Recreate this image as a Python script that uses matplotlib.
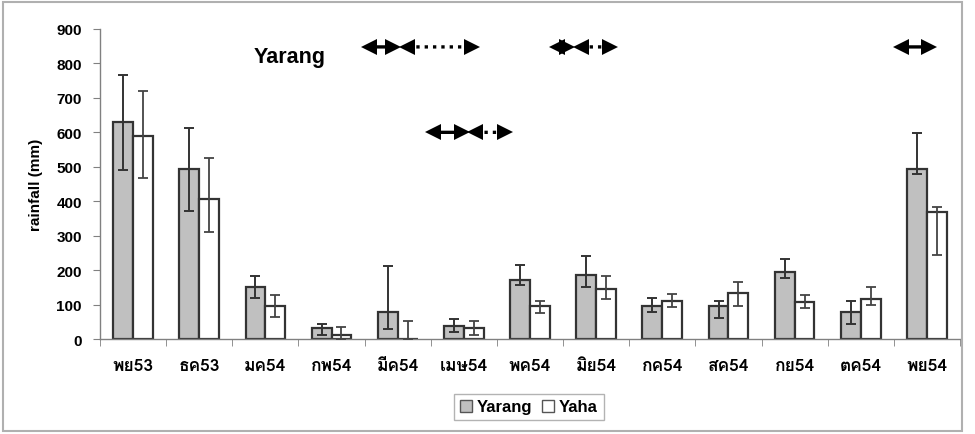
import matplotlib
matplotlib.use("Agg")
import matplotlib.pyplot as plt
import numpy as np
from matplotlib import font_manager
from matplotlib.ft2font import FT2Font
from matplotlib.patches import Rectangle, Patch
from matplotlib.transforms import offset_copy

# ---------------- data ----------------
categories = ['พย53', 'ธค53', 'มค54', 'กพ54', 'มีค54', 'เมษ54', 'พค54',
              'มิย54', 'กค54', 'สค54', 'กย54', 'ตค54', 'พย54']
yarang = [630, 495, 150, 33, 79, 39, 172, 187, 96, 96, 194, 79, 494]
yarang_err_low = [490, 373, 118, 12, 29, 19, 157, 150, 79, 61, 176, 44, 479]
yarang_err_high = [766, 612, 184, 44, 211, 58, 216, 240, 118, 111, 232, 111, 598]
yaha = [590, 406, 96, 13, 0, 33, 96, 145, 111, 135, 106, 116, 368]
yaha_err_low = [467, 311, 63, 0, 0, 12, 75, 116, 92, 95, 90, 100, 245]
yaha_err_high = [721, 526, 128, 34, 51, 51, 111, 184, 132, 166, 128, 150, 382]
y_ticks = [0, 100, 200, 300, 400, 500, 600, 700, 800, 900]

# period arrows: (x_start, x_end, y, style)
period_arrows = [
    (3.46, 4.04, 848, 'solid'),
    (4.04, 5.22, 848, 'dotted'),
    (6.31, 6.66, 848, 'solid'),
    (6.66, 7.31, 848, 'dotted'),
    (4.43, 5.07, 600, 'solid'),
    (5.07, 5.72, 600, 'dotted'),
    (11.50, 12.13, 848, 'solid'),
]

# ---------------- fonts ----------------
def find_thai_font():
    for f in font_manager.fontManager.ttflist:
        try:
            cm = FT2Font(f.fname).get_charmap()
        except Exception:
            continue
        if 0x0E1E in cm and 0x0E22 in cm and 0x0E21 in cm:
            return f.name
    return None

thai = find_thai_font()
base = 'Liberation Sans'
fam = [thai, base, 'DejaVu Sans'] if thai else [base, 'DejaVu Sans']
plt.rcParams['font.family'] = [base, 'DejaVu Sans']

# ---------------- figure ----------------
fig = plt.figure(figsize=(9.75, 4.35), dpi=100)
ax = fig.add_axes([100 / 975, 1 - 340 / 435, 860 / 975, 310 / 435])

x = np.arange(len(categories))
w = 0.3
edge = '#333333'
ax.bar(x - w / 2, yarang, width=w, color='#c0c0c0', edgecolor=edge, linewidth=1.6, zorder=2)
ax.bar(x + w / 2, yaha, width=w, color='white', edgecolor=edge, linewidth=1.6, zorder=2)

ya = np.array(yarang)
yh = np.array(yaha)
ax.errorbar(x - w / 2, ya,
            yerr=[ya - np.array(yarang_err_low), np.array(yarang_err_high) - ya],
            fmt='none', ecolor='#333333', elinewidth=1.4, capsize=3.8, capthick=1.4, zorder=3)
ax.errorbar(x + w / 2, yh,
            yerr=[yh - np.array(yaha_err_low), np.array(yaha_err_high) - yh],
            fmt='none', ecolor='#444444', elinewidth=1.3, capsize=3.8, capthick=1.3, zorder=3)

ax.set_xlim(-0.5, len(categories) - 0.5)
ax.set_ylim(0, 900)
ax.set_yticks(y_ticks)
ax.set_yticklabels([str(v) for v in y_ticks], fontsize=11, fontweight='bold')
ax.set_xticks(x)
ax.set_xticklabels(categories, fontsize=12.5, fontweight='bold', family=fam)
ax.set_xticks(np.arange(-0.5, len(categories)), minor=True)
ax.tick_params(axis='x', which='major', length=0, pad=14)
ax.tick_params(axis='x', which='minor', length=5, color='#808080', direction='out')
ax.tick_params(axis='y', length=5, color='#808080', direction='out', pad=8)

for s in ['top', 'right']:
    ax.spines[s].set_visible(False)
for s in ['left', 'bottom']:
    ax.spines[s].set_color('#808080')
    ax.spines[s].set_linewidth(1.0)

ax.set_ylabel('rainfall (mm)', fontsize=11, fontweight='bold', labelpad=10)

ax.text(2.36, 820, 'Yarang', fontsize=15.5, fontweight='bold', ha='center', va='center')

ms = 11
left_tr = offset_copy(ax.transData, fig=fig, x=ms * 0.45, y=0, units='points')
right_tr = offset_copy(ax.transData, fig=fig, x=-ms * 0.45, y=0, units='points')
for x0, x1, yy, st in period_arrows:
    ls = '-' if st == 'solid' else (0, (1, 1.5))
    ax.annotate('', xy=(x1, yy), xytext=(x0, yy),
                arrowprops=dict(arrowstyle='-', lw=2.4, color='black', linestyle=ls,
                                shrinkA=ms * 0.5, shrinkB=ms * 0.5, capstyle='butt'),
                annotation_clip=False, zorder=4)
    ax.plot([x0], [yy], marker='<', ms=ms, color='black', mew=0, transform=left_tr,
            zorder=5, clip_on=False)
    ax.plot([x1], [yy], marker='>', ms=ms, color='black', mew=0, transform=right_tr,
            zorder=5, clip_on=False)

handles = [Patch(facecolor='#c0c0c0', edgecolor='#555555', label='Yarang'),
           Patch(facecolor='white', edgecolor='#555555', label='Yaha')]
leg = fig.legend(handles=handles, loc='center', bbox_to_anchor=(529 / 975, 1 - 408 / 435),
                 ncol=2, frameon=True, fancybox=False, handlelength=0.7, handleheight=0.7,
                 handletextpad=0.3, columnspacing=0.6, borderpad=0.35,
                 prop={'weight': 'bold', 'size': 12})
leg.get_frame().set_edgecolor('#a0a0a0')
leg.get_frame().set_linewidth(1.0)

fig.patches.append(Rectangle((3 / 975, 3 / 435), 959 / 975, 429 / 435, transform=fig.transFigure,
                             fill=False, edgecolor='#b0b0b0', linewidth=1.5))

fig.savefig('out.png', dpi=100)
